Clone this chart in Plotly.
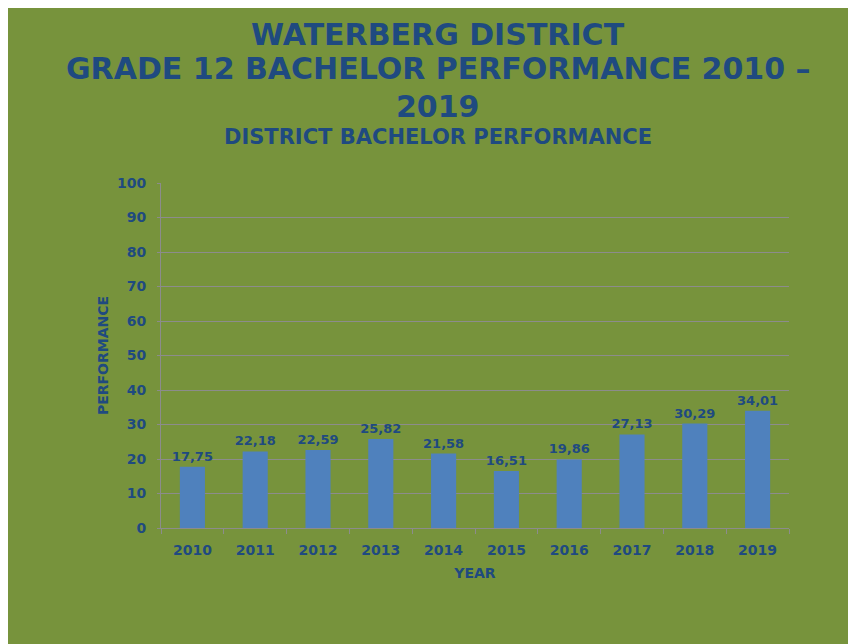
import plotly.graph_objects as go

years = ["2010", "2011", "2012", "2013", "2014", "2015", "2016", "2017", "2018", "2019"]
performance = [17.75, 22.18, 22.59, 25.82, 21.58, 16.51, 19.86, 27.13, 30.29, 34.01]

title_lines = ["WATERBERG DISTRICT", "GRADE 12 BACHELOR PERFORMANCE 2010 –", "2019"]
subtitle = "DISTRICT BACHELOR PERFORMANCE"
y_title = "PERFORMANCE"
x_title = "YEAR"

GREEN = "#77933C"
BAR = "#4F81BD"
TXT = "#1F4A80"
GRID = "#8C8C8C"
FONT = "DejaVu Sans"

OFF = 8  # page body margin
W, H = 856 + OFF, 644
L, R, T, B = 161 - OFF, W - 789 + OFF, 183 - OFF, 644 - 528 + OFF
PW, PH = W - L - R, H - T - B

def px_x(px):
    return (px - OFF - L) / PW

def px_y(py):
    return (H - B - (py - OFF)) / PH

fig = go.Figure()
fig.add_trace(go.Bar(
    x=years, y=performance,
    marker=dict(color=BAR, line=dict(width=0)),
    texttemplate="<b>%{y:.2f}</b>", textposition="outside",
    constraintext="none",
    textfont=dict(family=FONT, size=13, color=TXT),
    cliponaxis=False,
))

annotations = []
for text, cy, size in [(title_lines[0], 34.5, 30), (title_lines[1], 68, 30),
                        (title_lines[2], 106, 30), (subtitle, 137.5, 21)]:
    annotations.append(dict(
        text=f"<b>{text}</b>", xref="paper", yref="paper",
        x=px_x(438), y=px_y(cy), xanchor="center", yanchor="middle",
        showarrow=False, font=dict(family=FONT, size=size, color=TXT),
    ))

fig.update_layout(
    width=W, height=H,
    margin=dict(l=L, r=R, t=T, b=B, pad=0),
    paper_bgcolor=GREEN,
    plot_bgcolor=GREEN,
    separators=",.",
    bargap=0.6,
    showlegend=False,
    annotations=annotations,
    xaxis=dict(
        type="category", showline=True, linecolor=GRID, linewidth=1,
        ticks="outside", tickson="boundaries", ticklen=5, tickcolor=GRID,
        showgrid=False, ticklabelstandoff=9,
        tickfont=dict(family=FONT, size=14, color=TXT),
        title=dict(text=f"<b>{x_title}</b>", font=dict(family=FONT, size=14, color=TXT), standoff=11),
    ),
    yaxis=dict(
        range=[0, 100], dtick=10, showline=True, linecolor=GRID, linewidth=1,
        ticks="outside", ticklen=3, tickcolor=GRID, ticklabelstandoff=8,
        showgrid=True, gridcolor=GRID, gridwidth=1, zeroline=False,
        tickfont=dict(family=FONT, size=14, color=TXT),
        title=dict(text=f"<b>{y_title}</b>", font=dict(family=FONT, size=14, color=TXT), standoff=5),
    ),
)
fig.update_yaxes(tickprefix="<b>", ticksuffix="</b>")
fig.update_xaxes(tickprefix="<b>", ticksuffix="</b>")

fig.write_html("out.html")
